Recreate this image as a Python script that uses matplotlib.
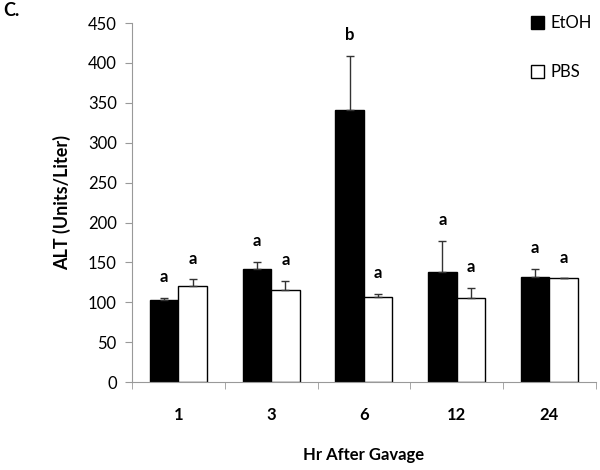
import numpy as np
import matplotlib.pyplot as plt
from matplotlib.patches import Patch

plt.rcParams['font.family'] = ['Lato', 'DejaVu Sans']

# values
hours = ['1', '3', '6', '12', '24']
etoh = [103, 142, 341, 138, 132]
etoh_err = [3, 9, 68, 39, 10]
pbs = [121, 115, 107, 106, 130]
pbs_err = [8, 12, 4, 12, 0]
etoh_letters = ['a', 'a', 'b', 'a', 'a']
pbs_letters = ['a', 'a', 'a', 'a', 'a']

fig = plt.figure(figsize=(6, 4.7), dpi=100)
ax = fig.add_axes([0.22, 0.187, 0.773, 0.764])

x = np.arange(len(hours))
w = 0.307

ax.bar(x - w / 2, etoh, w, color='black', edgecolor='black', linewidth=1)
ax.bar(x + w / 2, pbs, w, color='white', edgecolor='black', linewidth=1)

# excel style: upper error only
ax.errorbar(x - w / 2, etoh, yerr=[np.zeros(len(etoh)), etoh_err], fmt='none',
            ecolor='#333333', elinewidth=1, capsize=3, capthick=1)
ax.errorbar(x + w / 2, pbs, yerr=[np.zeros(len(pbs)), pbs_err], fmt='none',
            ecolor='#333333', elinewidth=1, capsize=3, capthick=1)

for i in range(len(hours)):
    ax.annotate(etoh_letters[i], (x[i] - w / 2, etoh[i] + etoh_err[i]),
                xytext=(0, 9), textcoords='offset points', ha='center',
                va='bottom', fontsize=12, fontweight='bold')
    ax.annotate(pbs_letters[i], (x[i] + w / 2, pbs[i] + pbs_err[i]),
                xytext=(0, 9), textcoords='offset points', ha='center',
                va='bottom', fontsize=12, fontweight='bold')

ax.set_xlim(-0.5, len(hours) - 0.5)
ax.set_ylim(0, 450)
ax.set_yticks(np.arange(0, 451, 50))
ax.set_xticks(x)
ax.set_xticklabels(hours, fontsize=12, fontweight='bold')
ax.set_xticks(np.arange(-0.5, len(hours), 1), minor=True)
ax.tick_params(axis='x', which='major', length=0, pad=18)
ax.tick_params(axis='x', which='minor', length=5, color='#999999')
ax.tick_params(axis='y', labelsize=12, length=5, color='#999999', pad=6)

for s in ['top', 'right']:
    ax.spines[s].set_visible(False)
for s in ['left', 'bottom']:
    ax.spines[s].set_color('#999999')

ax.set_ylabel('ALT (Units/Liter)', fontsize=13, fontweight='bold', labelpad=12)
ax.set_xlabel('Hr After Gavage', fontsize=12, fontweight='bold', labelpad=17)

handles = [Patch(facecolor='black', edgecolor='black', label='EtOH'),
           Patch(facecolor='white', edgecolor='black', label='PBS')]
fig.legend(handles=handles, loc='upper left', bbox_to_anchor=(0.86, 1.0),
           frameon=False, fontsize=12, handlelength=0.8, handleheight=0.8,
           handletextpad=0.4, labelspacing=2.0)

fig.text(0.005, 0.995, 'C.', fontsize=13, fontweight='bold', va='top')

fig.savefig('out.png', dpi=100)
